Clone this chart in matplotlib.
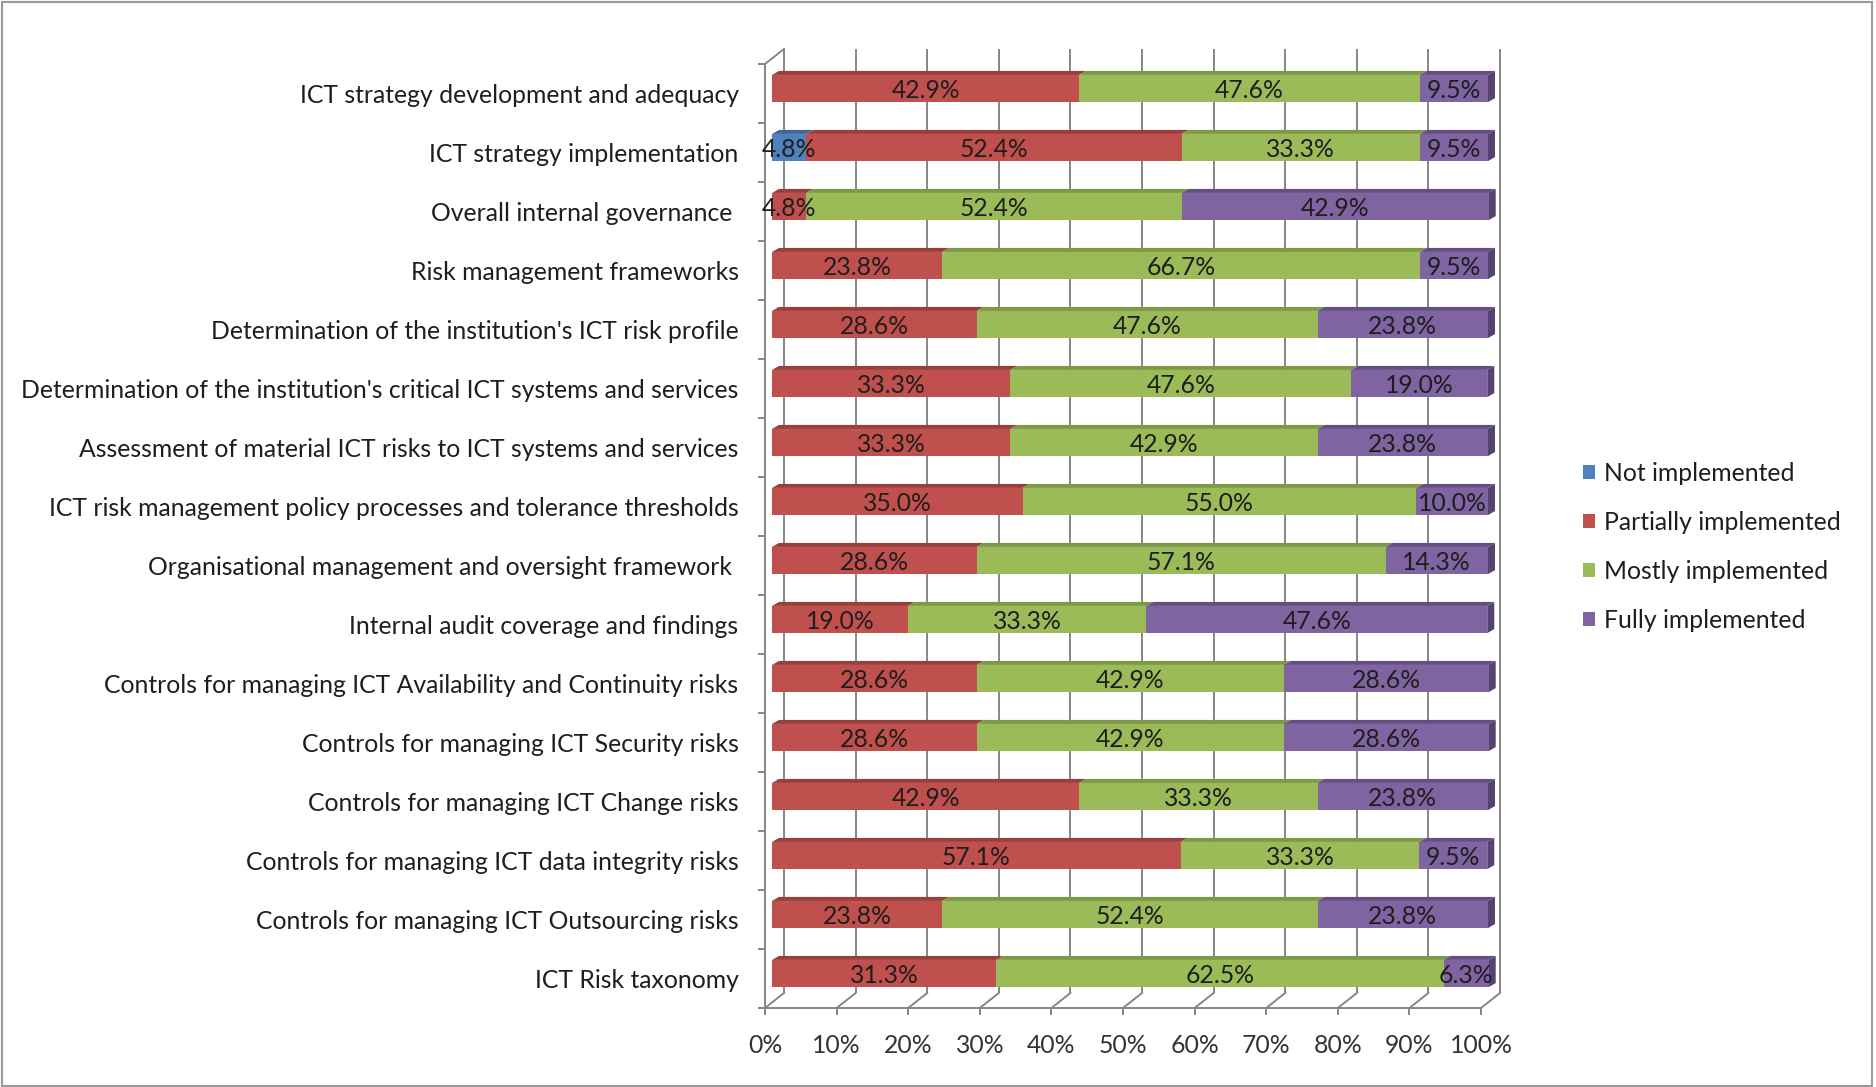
import matplotlib
matplotlib.use("Agg")
import matplotlib.pyplot as plt
from matplotlib.patches import Polygon, Patch, Rectangle
import numpy as np

categories = [
    "ICT strategy development and adequacy",
    "ICT strategy implementation",
    "Overall internal governance ",
    "Risk management frameworks",
    "Determination of the institution's ICT risk profile",
    "Determination of the institution's critical ICT systems and services",
    "Assessment of material ICT risks to ICT systems and services",
    "ICT risk management policy processes and tolerance thresholds",
    "Organisational management and oversight framework ",
    "Internal audit coverage and findings",
    "Controls for managing ICT Availability and Continuity risks",
    "Controls for managing ICT Security risks",
    "Controls for managing ICT Change risks",
    "Controls for managing ICT data integrity risks",
    "Controls for managing ICT Outsourcing risks",
    "ICT Risk taxonomy",
]
series_names = ["Not implemented", "Partially implemented", "Mostly implemented", "Fully implemented"]
not_impl = [0, 4.8, 0, 0, 0, 0, 0, 0, 0, 0, 0, 0, 0, 0, 0, 0]
partially = [42.9, 52.4, 4.8, 23.8, 28.6, 33.3, 33.3, 35.0, 28.6, 19.0, 28.6, 28.6, 42.9, 57.1, 23.8, 31.3]
mostly = [47.6, 33.3, 52.4, 66.7, 47.6, 47.6, 42.9, 55.0, 57.1, 33.3, 42.9, 42.9, 33.3, 33.3, 52.4, 62.5]
fully = [9.5, 9.5, 42.9, 9.5, 23.8, 19.0, 23.8, 10.0, 14.3, 47.6, 28.6, 28.6, 23.8, 9.5, 23.8, 6.3]
x_ticks = [0, 10, 20, 30, 40, 50, 60, 70, 80, 90, 100]
x_tick_labels = ["0%", "10%", "20%", "30%", "40%", "50%", "60%", "70%", "80%", "90%", "100%"]

front_colors = ["#4F81BD", "#C0504D", "#9BBB59", "#8064A2"]
top_colors = ["#3E6797", "#9A3E3B", "#7D9946", "#654E83"]
side_colors = ["#355985", "#853432", "#6B843B", "#574372"]

FONT = ["Lato", "DejaVu Sans"]
FS = 17.8
plt.rcParams["font.family"] = FONT

W, H = 1876, 1087
fig = plt.figure(figsize=(W / 100, H / 100), dpi=100)
fig.patch.set_facecolor("white")

x0px, x1px = 765, 1481
ytop_px, ybot_px = 64, 1008
ax = fig.add_axes([x0px / W, 1 - ybot_px / H, (x1px - x0px) / W, (ybot_px - ytop_px) / H])
ax.set_facecolor("none")

n = len(categories)
ax.set_xlim(0, 100)
ax.set_ylim(n - 0.5, -0.5)

px_per_x = (x1px - x0px) / 100.0
px_per_row = (ybot_px - ytop_px) / n
# wall depth (px -> data)
DX = 19 / px_per_x
DY = -15 / px_per_row
# bar front-face offset and bar depth
FX, FY = 7 / px_per_x, -5 / px_per_row
BX, BY = 7 / px_per_x, -4 / px_per_row
bar_h = 0.46
grid_c = "#868686"
lw = 1.4

for t in x_ticks:
    ax.plot([t + DX, t + DX], [n - 0.5 + DY, -0.5 + DY], color=grid_c, lw=lw, zorder=0.5,
            clip_on=False, solid_capstyle="butt")
    ax.plot([t, t + DX], [n - 0.5, n - 0.5 + DY], color=grid_c, lw=lw, zorder=0.5, clip_on=False)
ax.plot([0, DX], [-0.5, -0.5 + DY], color=grid_c, lw=lw, zorder=0.5, clip_on=False)

series = [not_impl, partially, mostly, fully]
ypos = np.arange(n)
lefts = np.zeros(n)
for s, vals in enumerate(series):
    vals = np.array(vals, dtype=float)
    mask = vals > 0
    ax.barh(ypos[mask] + FY, vals[mask], left=lefts[mask] + FX, height=bar_h,
            color=front_colors[s], edgecolor="none", zorder=3, clip_on=False)
    for i in np.where(mask)[0]:
        l, r = lefts[i] + FX, lefts[i] + vals[i] + FX
        yt = i - bar_h / 2 + FY
        top = Polygon([(l, yt), (r, yt), (r + BX, yt + BY), (l + BX, yt + BY)],
                      closed=True, facecolor=top_colors[s], edgecolor="none", zorder=2.9,
                      clip_on=False)
        ax.add_patch(top)
        ax.text((l + r) / 2, i + FY + 0.03, f"{vals[i]:.1f}%", ha="center", va="center",
                fontsize=FS, color="#1E1E1E", zorder=5, clip_on=False)
    lefts = lefts + vals

for i in range(n):
    r = lefts[i] + FX
    last = max(s for s in range(4) if series[s][i] > 0)
    yt, yb = i - bar_h / 2 + FY, i + bar_h / 2 + FY
    side = Polygon([(r, yt), (r + BX, yt + BY), (r + BX, yb + BY), (r, yb)],
                   closed=True, facecolor=side_colors[last], edgecolor="none", zorder=2.9,
                   clip_on=False)
    ax.add_patch(side)

for sp in ["top", "right"]:
    ax.spines[sp].set_visible(False)
for sp in ["left", "bottom"]:
    ax.spines[sp].set_color(grid_c)
    ax.spines[sp].set_linewidth(lw)
ax.set_xticks(x_ticks)
ax.set_xticklabels(x_tick_labels, fontsize=FS, color="#333333")
ax.tick_params(axis="x", length=5, width=lw, color=grid_c, pad=14)
ax.set_yticks(ypos)
ax.set_yticklabels(categories, fontsize=FS, color="#1E1E1E")
ax.tick_params(axis="y", which="major", length=0, pad=19)
ax.set_yticks(np.arange(n + 1) - 0.5, minor=True)
ax.tick_params(axis="y", which="minor", length=5, width=lw, color=grid_c)

handles = [Patch(facecolor=c, edgecolor="none") for c in front_colors]
fig.legend(handles, series_names, loc="upper left", bbox_to_anchor=(1583 / W, 1 - 462 / H),
           frameon=False, fontsize=FS, handlelength=0.5, handleheight=0.5, handletextpad=0.35,
           labelspacing=1.05, borderpad=0, borderaxespad=0, labelcolor="#1E1E1E")

fig.add_artist(Rectangle((0.001, 0.001), 0.997, 0.997, transform=fig.transFigure, fill=False,
                         edgecolor="#9A9A9A", linewidth=1.5))

fig.savefig("out.png", dpi=100)
